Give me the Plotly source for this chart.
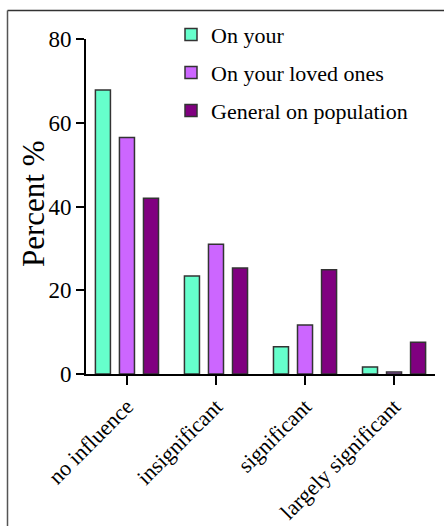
import plotly.graph_objects as go

categories = ["no influence", "insignificant", "significant", "largely significant"]
on_your = [67.8, 23.4, 6.5, 1.7]
on_loved = [56.5, 31.0, 11.7, 0.5]
general = [42.0, 25.3, 24.9, 7.6]
series_names = ["On your", "On your loved ones", "General on population"]
colors = ["#66FFCC", "#CC66FF", "#800080"]
y_ticks = [0, 20, 40, 60, 80]
y_title = "Percent %"

W, H = 444, 526
L, R, T, B = 86, 9, 38.5, 151.5
pw, ph = W - L - R, H - T - B

fig = go.Figure()
for i, (name, vals) in enumerate(zip(series_names, [on_your, on_loved, general])):
    fig.add_trace(go.Bar(
        x=categories, y=vals, name=name, legendgroup=f"g{i}",
        marker=dict(color=colors[i], line=dict(color="#333333", width=1.5)),
    ))

def px2paper_x(px):
    return (px - L) / pw

def px2paper_y(py):
    return (H - B - py) / ph

shapes = [
    dict(type="line", xref="paper", yref="paper",
         x0=px2paper_x(7.5), x1=px2paper_x(W + 5), y0=px2paper_y(10), y1=px2paper_y(10),
         line=dict(color="#333333", width=1.5)),
    dict(type="line", xref="paper", yref="paper",
         x0=px2paper_x(7.5), x1=px2paper_x(7.5), y0=px2paper_y(10), y1=px2paper_y(H + 5),
         line=dict(color="#555555", width=1.5)),
]

fig.update_layout(
    width=W, height=H,
    margin=dict(l=L, r=R, t=T, b=B, autoexpand=False),
    paper_bgcolor="white", plot_bgcolor="white",
    font=dict(family="Liberation Serif", color="black", size=20),
    barmode="group", bargap=0.19, bargroupgap=0.375,
    showlegend=True,
    legend=dict(x=px2paper_x(171), y=px2paper_y(13), xanchor="left", yanchor="top",
                bgcolor="rgba(0,0,0,0)", font=dict(size=22), tracegroupgap=6.5,
                itemwidth=30),
    shapes=shapes,
    annotations=[dict(text=y_title, xref="paper", yref="paper",
                      x=px2paper_x(33), y=px2paper_y(204), textangle=-90,
                      showarrow=False, xanchor="center", yanchor="middle",
                      font=dict(size=31))],
)
fig.update_xaxes(
    range=[-0.46, 3.46], showline=True, linecolor="black", linewidth=2,
    ticks="outside", ticklen=9, tickwidth=2, tickcolor="black",
    tickangle=-45, tickfont=dict(size=22), showgrid=False, zeroline=False,
)
fig.update_yaxes(
    range=[0, 80], tickvals=y_ticks, showline=True, linecolor="black", linewidth=2,
    ticks="outside", ticklen=8, tickwidth=2, tickcolor="black",
    tickfont=dict(size=23), showgrid=False, zeroline=False,
)
fig.write_html("out.html", post_script="document.body.style.margin='0';",
               config={"displayModeBar": False})
